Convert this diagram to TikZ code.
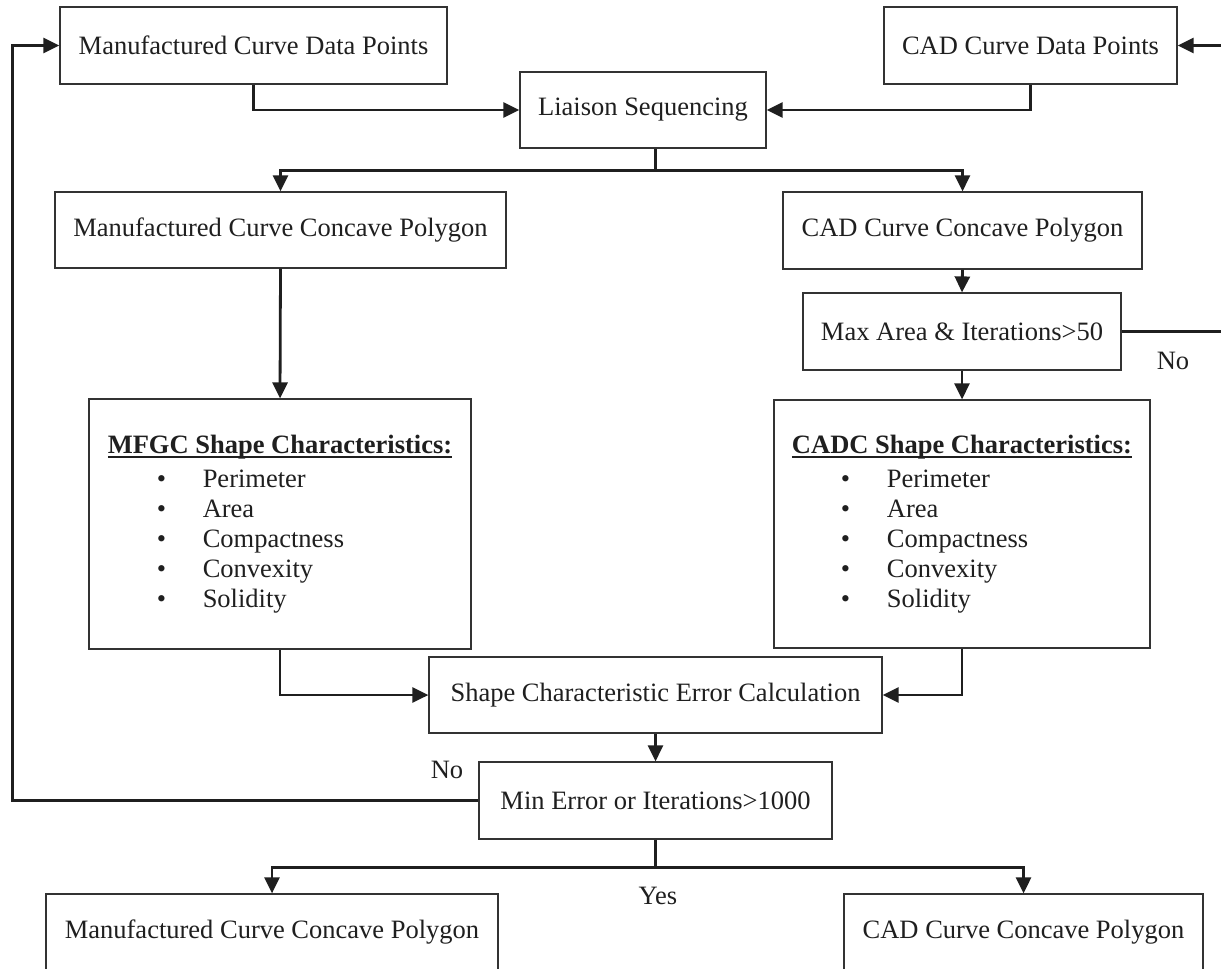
\documentclass[tikz,border=0pt]{standalone}
\usepackage{fontspec}
\setmainfont{Liberation Serif}
\usetikzlibrary{arrows.meta}
\newcommand{\myul}[1]{\setbox0\hbox{\textbf{#1}}\makebox[0pt][l]{\rule[-5pt]{\wd0}{2.5pt}}\box0}
\newcommand{\myitem}[1]{\hspace*{49pt}\makebox[46pt][l]{\textbullet}#1}
\begin{document}
\begin{tikzpicture}[x=1pt,y=-1pt,
 box/.style={draw=black!80, line width=1.2pt, rectangle, inner sep=0pt, text=black!88, font=\fontsize{26.5}{30}\selectfont},
 conn/.style={draw=black!88, line width=2.8pt},
 arr/.style={conn, -{Triangle[length=16pt,width=15pt]}},
 lbl/.style={text=black!88, font=\fontsize{26.5}{30}\selectfont, inner sep=0pt}]
\useasboundingbox (0,0) rectangle (1221,969);
\clip (0,0) rectangle (1221,969);

\node[box, minimum width=387pt, minimum height=77pt] (mdp) at (253.5,45.5) {Manufactured Curve Data Points};
\node[box, minimum width=293pt, minimum height=77pt] (cdp) at (1030.5,45.5) {CAD Curve Data Points};
\node[box, minimum width=246pt, minimum height=76pt] (lia) at (643,110) {Liaison Sequencing};
\node[box, minimum width=451pt, minimum height=76pt] (mccp) at (280.5,230) {Manufactured Curve Concave Polygon};
\node[box, minimum width=359pt, minimum height=77pt] (cccp) at (962.5,230.5) {CAD Curve Concave Polygon};
\node[box, minimum width=318pt, minimum height=77pt] (max) at (962,331.5) {Max Area \& Iterations>50};
\node[box, minimum width=382pt, minimum height=250pt, align=left] (mfgc) at (280,524) {\myul{MFGC Shape Characteristics:}\\[4pt]
\myitem{Perimeter}\\ \myitem{Area}\\ \myitem{Compactness}\\ \myitem{Convexity}\\ \myitem{Solidity}};
\node[box, minimum width=376pt, minimum height=248pt, align=left] (cadc) at (962,524) {\myul{CADC Shape Characteristics:}\\[4pt]
\myitem{Perimeter}\\ \myitem{Area}\\ \myitem{Compactness}\\ \myitem{Convexity}\\ \myitem{Solidity}};
\node[box, minimum width=453pt, minimum height=76pt] (sce) at (655.5,695) {Shape Characteristic Error Calculation};
\node[box, minimum width=353pt, minimum height=77pt] (min) at (655.5,800.5) {Min Error or Iterations>1000};
\node[box, minimum width=452pt, minimum height=77pt] (bl) at (272,932.5) {Manufactured Curve Concave Polygon};
\node[box, minimum width=359pt, minimum height=77pt] (br) at (1023.5,932.5) {CAD Curve Concave Polygon};

\node[lbl] (no1) at (1173,360.5) {No};
\node[lbl] (no2) at (447,770) {No};
\node[lbl] (yes) at (658,896) {Yes};

\coordinate (rr) at (1223,0);
\coordinate (ll) at (12.5,0);

\draw[arr] (mdp.south) |- (lia.west);
\draw[arr] (cdp.south) |- (lia.east);
\draw[conn] (lia.south -| sce.north) -- ++(0,22) coordinate (lb);
\draw[arr] (lb) -| (mccp.north);
\draw[arr] (lb) -| (cccp.north);
\draw[arr] (mccp.south) -- (mfgc.north);
\draw[arr] (cccp.south) -- (max.north);
\draw[arr] (max.south) -- (cadc.north);
\draw[arr] (max.east) -- (max.east -| rr) -- (cdp.east -| rr) -- (cdp.east);
\draw[arr] (mfgc.south) |- (sce.west);
\draw[arr] (cadc.south) |- (sce.east);
\draw[arr] (sce.south) -- (min.north);
\draw[arr] (min.west) -- (min.west -| ll) -- (mdp.west -| ll) -- (mdp.west);
\draw[conn] (min.south) -- ++(0,28) coordinate (mb);
\draw[arr] (mb) -| (bl.north);
\draw[arr] (mb) -| (br.north);
\end{tikzpicture}
\end{document}
